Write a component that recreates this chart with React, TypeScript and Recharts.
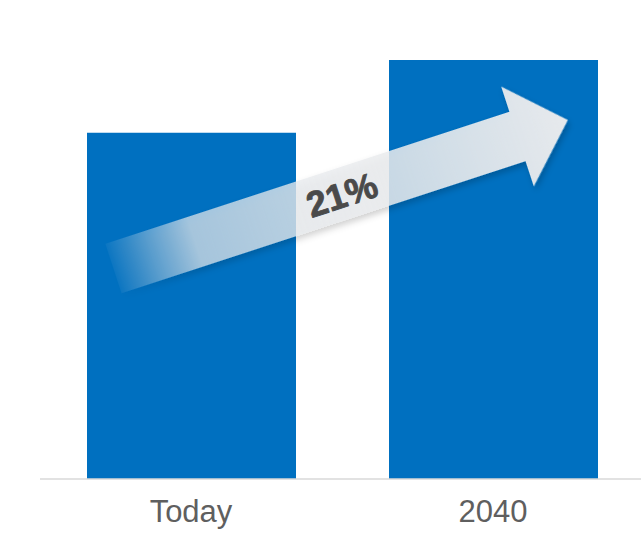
import React from 'react';
import { BarChart, Bar, XAxis, YAxis } from 'recharts';

const categories = ['Today', '2040'];
const values = [100, 121];
const growthLabel = '21%';

const data = categories.map((c, i) => ({ name: c, value: values[i] }));

const Arrow = () => (
  <svg
    width={641}
    height={534}
    style={{ position: 'absolute', left: 0, top: 0, pointerEvents: 'none' }}
  >
    <defs>
      <linearGradient id="arrowGrad" x1="0" y1="0" x2="1" y2="0">
        <stop offset="0" stopColor="#dfe6ec" stopOpacity={0.05} />
        <stop offset="0.08" stopColor="#dfe6ec" stopOpacity={0.35} />
        <stop offset="0.18" stopColor="#e4e8ec" stopOpacity={0.7} />
        <stop offset="0.55" stopColor="#eaecee" stopOpacity={0.82} />
        <stop offset="1" stopColor="#ebecee" stopOpacity={0.98} />
      </linearGradient>
      <filter id="arrowShadow" x="-10%" y="-30%" width="120%" height="160%">
        <feDropShadow dx="1" dy="4" stdDeviation="3" floodColor="#000" floodOpacity="0.22" />
      </filter>
    </defs>
    <g transform="translate(113.5,268.5) rotate(-18.1)">
      <polygon
        points="0,-26 425,-26 425,-52.5 478,0 425,52.5 425,26 0,26"
        fill="url(#arrowGrad)"
        filter="url(#arrowShadow)"
      />
      <text
        x={240}
        y={1}
        textAnchor="middle"
        dominantBaseline="central"
        fontFamily="Liberation Sans"
        fontWeight="bold"
        fontSize={36}
        fill="#4a4a4a"
        stroke="#4a4a4a"
        strokeWidth={0.9}
        strokeLinejoin="round"
      >
        {growthLabel}
      </text>
    </g>
  </svg>
);

export default function App() {
  return (
    <div
      style={{
        position: 'absolute',
        left: 0,
        top: 0,
        width: 641,
        height: 534,
        overflow: 'hidden',
        background: '#ffffff',
      }}
    >
      <BarChart
        width={650}
        height={534}
        data={data}
        margin={{ top: 60, right: 6, bottom: 0, left: 40 }}
        barCategoryGap={0}
      >
        <XAxis
          dataKey="name"
          height={55}
          tickLine={false}
          axisLine={{ stroke: '#d9d9d9', strokeWidth: 1.5 }}
          tick={{ fill: '#5f5f5f', fontSize: 31, fontFamily: 'Liberation Sans' }}
          tickMargin={15}
        />
        <YAxis hide domain={[0, 121]} />
        <Bar dataKey="value" fill="#0070c0" barSize={209} isAnimationActive={false} />
      </BarChart>
      <Arrow />
    </div>
  );
}
